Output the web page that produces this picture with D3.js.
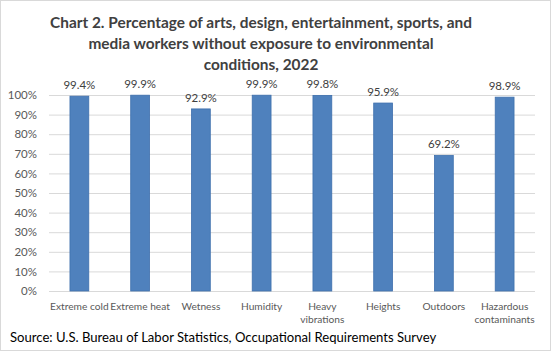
<!DOCTYPE html>
<html>
<head>
    <meta charset="utf-8">
    <style>
        body { margin: 0; background: #fff; }
        svg { display: block; font-family: Lato, sans-serif; }
    </style>
</head>
<body>
    <svg width="551" height="351"></svg>
    <script src="https://d3js.org/d3.v7.min.js"></script>
    <script>
        let categories = [["Extreme cold"], ["Extreme heat"], ["Wetness"], ["Humidity"],
            ["Heavy", "vibrations"], ["Heights"], ["Outdoors"], ["Hazardous", "contaminants"]];
        let values = [99.4, 99.9, 92.9, 99.9, 99.8, 95.9, 69.2, 98.9];
        let yTicks = [0, 10, 20, 30, 40, 50, 60, 70, 80, 90, 100];
        let titleLines = ["Chart 2. Percentage of arts, design, entertainment, sports, and",
            "media workers without exposure to environmental",
            "conditions, 2022"];
        let source = "Source: U.S. Bureau of Labor Statistics, Occupational Requirements Survey";

        let svg = d3.select("svg");
        let plotLeft = 49, plotRight = 535, plotTop = 95, plotBottom = 291;

        svg.append("rect")
            .attr("x", 0.5).attr("y", 0.5)
            .attr("width", 550).attr("height", 350)
            .attr("fill", "#fff").attr("stroke", "#d9d9d9");

        let x = d3.scaleBand()
            .domain(d3.range(categories.length))
            .range([plotLeft, plotRight])
            .paddingInner(0.69).paddingOuter(0.345);
        let y = d3.scaleLinear().domain([0, 100]).range([plotBottom, plotTop]);

        svg.append("g")
            .selectAll("text")
            .data(titleLines)
            .enter().append("text")
            .attr("x", 261)
            .attr("y", function(d, i) { return 28 + i * 21; })
            .attr("text-anchor", "middle")
            .attr("font-size", 15.4)
            .attr("font-weight", "bold")
            .attr("fill", "#404040")
            .text(function(d) { return d; });

        let yAxis = d3.axisLeft(y)
            .tickValues(yTicks)
            .tickSize(-(plotRight - plotLeft))
            .tickPadding(12)
            .tickFormat(function(d) { return d + "%"; });
        let gy = svg.append("g")
            .attr("transform", "translate(" + plotLeft + ",0)")
            .call(yAxis);
        gy.select(".domain").remove();
        gy.selectAll(".tick line").attr("stroke", "#d9d9d9");
        gy.selectAll(".tick text")
            .attr("font-size", 11.5)
            .attr("fill", "#595959")
            .attr("font-family", "Lato, sans-serif");

        svg.append("g")
            .selectAll("rect")
            .data(values)
            .enter().append("rect")
            .attr("x", function(d, i) { return x(i); })
            .attr("y", function(d) { return y(d); })
            .attr("width", x.bandwidth())
            .attr("height", function(d) { return plotBottom - y(d); })
            .attr("fill", "#4f81bd")
            .attr("stroke", "#3f70ad")
            .attr("stroke-width", 0.8);

        svg.append("g")
            .selectAll("text")
            .data(values)
            .enter().append("text")
            .attr("x", function(d, i) { return x(i) + x.bandwidth() / 2; })
            .attr("y", function(d) { return y(d) - 7; })
            .attr("text-anchor", "middle")
            .attr("font-size", 11.5)
            .attr("fill", "#404040")
            .text(function(d) { return d.toFixed(1) + "%"; });

        let gx = svg.append("g");
        categories.forEach(function(lines, i) {
            let t = gx.append("text")
                .attr("x", x(i) + x.bandwidth() / 2)
                .attr("y", 310)
                .attr("text-anchor", "middle")
                .attr("font-size", 10.2)
                .attr("fill", "#595959");
            lines.forEach(function(l, j) {
                t.append("tspan")
                    .attr("x", x(i) + x.bandwidth() / 2)
                    .attr("dy", j === 0 ? 0 : 13)
                    .text(l);
            });
        });

        svg.append("text")
            .attr("x", 10)
            .attr("y", 342)
            .attr("font-size", 13.1)
            .attr("fill", "#000")
            .text(source);
    </script>
</body>
</html>
